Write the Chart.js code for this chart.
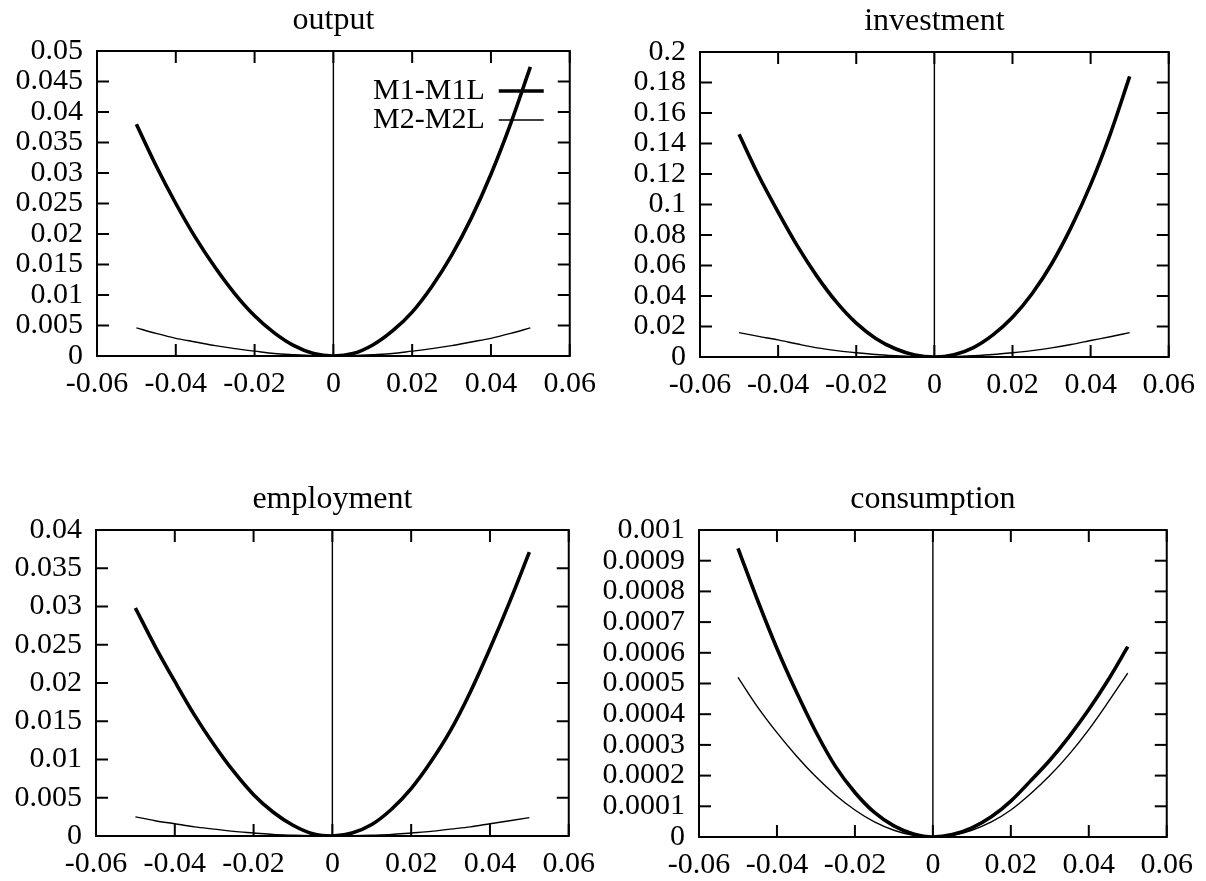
<!DOCTYPE html>
<html>
<head>
<meta charset="utf-8">
<script src="https://cdn.jsdelivr.net/npm/chart.js@4.4.1/dist/chart.umd.min.js"></script>
<style>
  html, body { margin: 0; padding: 0; background: #fff; }
  body { width: 1206px; height: 881px; position: relative; overflow: hidden; }
  canvas { position: absolute; }
</style>
</head>
<body>
<canvas id="cOutput"></canvas>
<canvas id="cInvestment"></canvas>
<canvas id="cEmployment"></canvas>
<canvas id="cConsumption"></canvas>
<script>
// shock size (x axis), same grid for every panel
const shocks = [-0.05, -0.045, -0.04, -0.035, -0.03, -0.025, -0.02, -0.015, -0.01, -0.005, 0,
                0.005, 0.01, 0.015, 0.02, 0.025, 0.03, 0.035, 0.04, 0.045, 0.05];
const xTicks = [-0.06, 0.06, 0.02]; // min, max, step
const seriesNames = ['M1-M1L', 'M2-M2L'];

// output
const outputM1 = [0.0380, 0.0312, 0.0250, 0.0194, 0.0145, 0.0102, 0.0066, 0.0038, 0.0017, 0.0004, 0,
                  0.0004, 0.0018, 0.0041, 0.0072, 0.0114, 0.0165, 0.0226, 0.0298, 0.0381, 0.0474];
const outputM2 = [0.0046, 0.0037, 0.0029, 0.0023, 0.0017, 0.0012, 0.0008, 0.0004, 0.0002, 0.00005, 0,
                  0.00005, 0.0002, 0.0004, 0.0008, 0.0012, 0.0017, 0.0023, 0.0029, 0.0037, 0.0046];
// investment
const investM1 = [0.146, 0.119, 0.095, 0.0725, 0.0527, 0.0358, 0.0222, 0.0122, 0.0054, 0.0013, 0,
                  0.0015, 0.0062, 0.0145, 0.026, 0.0415, 0.061, 0.085, 0.113, 0.146, 0.184];
const investM2 = [0.016, 0.0135, 0.0112, 0.0085, 0.006, 0.0042, 0.0028, 0.0016, 0.0008, 0.0002, 0,
                  0.0002, 0.0008, 0.0016, 0.0028, 0.0042, 0.006, 0.0082, 0.0108, 0.0133, 0.016];
// employment
const emplM1 = [0.0298, 0.0248, 0.0202, 0.0158, 0.0119, 0.0084, 0.0054, 0.0031, 0.0014, 0.0003, 0,
                0.0004, 0.0015, 0.0035, 0.0062, 0.0097, 0.0138, 0.0188, 0.0245, 0.0306, 0.0371];
const emplM2 = [0.0025, 0.002, 0.0016, 0.0012, 0.0009, 0.0006, 0.0004, 0.0002, 0.0001, 0.00003, 0,
                0.00003, 0.0001, 0.0002, 0.0004, 0.0006, 0.0009, 0.0012, 0.0016, 0.002, 0.0024];
// consumption
const consM1 = [0.00094, 0.000772, 0.000614, 0.000472, 0.000342, 0.00023, 0.000145, 0.00008, 0.000036, 0.00001, 0,
                0.000008, 0.00003, 0.000066, 0.000117, 0.000182, 0.00025, 0.000328, 0.000415, 0.000512, 0.00062];
const consM2 = [0.00052, 0.000424, 0.00034, 0.000264, 0.000196, 0.000137, 0.000088, 0.000049, 0.000022, 0.0000055, 0,
                0.000005, 0.000022, 0.000049, 0.000088, 0.00014, 0.0002, 0.00027, 0.00035, 0.00044, 0.000534];

// y axis: max and step per panel
const yOutput = [0.05, 0.005];
const yInvest = [0.2, 0.02];
const yEmpl = [0.04, 0.005];
const yCons = [0.001, 0.0001];

Chart.defaults.font.family = '"Liberation Serif", "Times New Roman", serif';
Chart.defaults.color = '#000';

function fmt(v) {
  return String(parseFloat(Number(v).toFixed(10)));
}

function seg(ctx, x1, y1, x2, y2) {
  ctx.beginPath();
  ctx.moveTo(x1, y1);
  ctx.lineTo(x2, y2);
  ctx.stroke();
}

// gnuplot style box: border, inward ticks on all sides, zero axis
const gnuFrame = {
  id: 'gnuFrame',
  beforeDatasetsDraw(chart) {
    const ctx = chart.ctx, a = chart.chartArea;
    const x = chart.scales.x, y = chart.scales.y;
    ctx.save();
    ctx.strokeStyle = '#000';
    ctx.lineWidth = 1.4;
    const x0 = x.getPixelForValue(0);
    seg(ctx, x0, a.top, x0, a.bottom);
    ctx.lineWidth = 2;
    x.ticks.forEach(t => {
      const px = x.getPixelForValue(t.value);
      seg(ctx, px, a.bottom, px, a.bottom - 12);
      seg(ctx, px, a.top, px, a.top + 12);
    });
    y.ticks.forEach(t => {
      const py = y.getPixelForValue(t.value);
      seg(ctx, a.left, py, a.left + 12, py);
      seg(ctx, a.right, py, a.right - 12, py);
    });
    ctx.strokeRect(a.left, a.top, a.right - a.left, a.bottom - a.top);
    ctx.restore();
  }
};

// key in the top right corner: text then line sample
const gnuKey = {
  id: 'gnuKey',
  afterDatasetsDraw(chart, args, opts) {
    if (!opts.show) return;
    const ctx = chart.ctx, a = chart.chartArea;
    ctx.save();
    ctx.font = '30px "Liberation Serif", serif';
    ctx.fillStyle = '#000';
    ctx.strokeStyle = '#000';
    ctx.textAlign = 'right';
    ctx.textBaseline = 'middle';
    chart.data.datasets.forEach((ds, i) => {
      const yy = a.top + 40 + i * 29;
      ctx.fillText(ds.label, a.right - 85, yy);
      ctx.lineWidth = ds.borderWidth;
      seg(ctx, a.right - 71, yy, a.right - 26, yy);
    });
    ctx.restore();
  }
};

const YW = 97, XH = 50, TH = 50, PR = 35;

function makeChart(id, title, m1, m2, yAxis, box, showKey) {
  const [pl, pt, pw, ph] = box;
  const cv = document.getElementById(id);
  const w = YW + pw + PR, h = TH + ph + XH;
  cv.width = w; cv.height = h;
  cv.style.width = w + 'px'; cv.style.height = h + 'px';
  cv.style.left = (pl - YW) + 'px';
  cv.style.top = (pt - TH) + 'px';

  const pts = arr => shocks.map((s, i) => ({ x: s, y: arr[i] }));

  return new Chart(cv.getContext('2d'), {
    type: 'line',
    data: {
      datasets: [
        { label: seriesNames[0], data: pts(m1), borderColor: '#000', borderWidth: 3.6,
          pointRadius: 0, cubicInterpolationMode: 'monotone', fill: false },
        { label: seriesNames[1], data: pts(m2), borderColor: '#000', borderWidth: 1.4,
          pointRadius: 0, cubicInterpolationMode: 'monotone', fill: false }
      ]
    },
    options: {
      responsive: false,
      animation: false,
      devicePixelRatio: 1,
      layout: { padding: { left: 0, top: 0, right: PR, bottom: 0 } },
      plugins: {
        legend: { display: false },
        tooltip: { enabled: false },
        title: {
          display: true, text: title, fullSize: false, color: '#000',
          font: { size: 32, weight: 'normal', lineHeight: 1.25 },
          padding: { top: 0, bottom: 10 }
        },
        gnuKey: { show: !!showKey }
      },
      scales: {
        x: {
          type: 'linear', min: xTicks[0], max: xTicks[1],
          grid: { display: false, drawTicks: false },
          border: { display: false },
          ticks: { stepSize: xTicks[2], autoSkip: false, maxRotation: 0, padding: 10,
                   font: { size: 30 }, callback: v => fmt(v) },
          afterFit: s => { s.height = XH; }
        },
        y: {
          min: 0, max: yAxis[0],
          grid: { display: false, drawTicks: false },
          border: { display: false },
          ticks: { stepSize: yAxis[1], autoSkip: false, padding: 14,
                   font: { size: 30 }, callback: v => fmt(v) },
          afterFit: s => { s.width = YW; }
        }
      }
    },
    plugins: [gnuFrame, gnuKey]
  });
}

document.addEventListener('DOMContentLoaded', function () {
  makeChart('cOutput', 'output', outputM1, outputM2, yOutput, [97, 51, 474, 305], true);
  makeChart('cInvestment', 'investment', investM1, investM2, yInvest, [700, 52, 470, 305]);
  makeChart('cEmployment', 'employment', emplM1, emplM2, yEmpl, [96, 530, 474, 306]);
  makeChart('cConsumption', 'consumption', consM1, consM2, yCons, [699, 530, 469, 307]);
});
</script>
</body>
</html>
